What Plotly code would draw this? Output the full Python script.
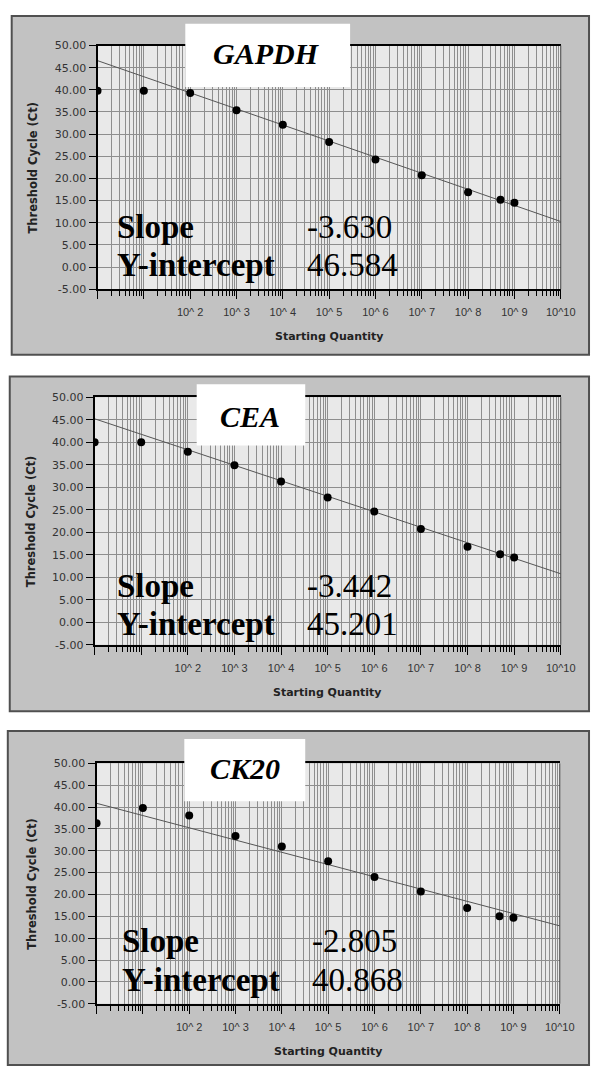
import numpy as np
import plotly.graph_objects as go

# ---------------- data ----------------
genes = ["GAPDH", "CEA", "CK20"]
quantities = [1, 1e1, 1e2, 1e3, 1e4, 1e5, 1e6, 1e7, 1e8, 5e8, 1e9]
gapdh_ct = [39.8, 39.8, 39.3, 35.4, 32.1, 28.2, 24.3, 20.7, 16.9, 15.2, 14.5]
cea_ct = [40.0, 40.0, 37.9, 34.9, 31.3, 27.7, 24.6, 20.7, 16.8, 15.1, 14.4]
ck20_ct = [36.3, 39.8, 38.1, 33.4, 31.0, 27.6, 24.0, 20.7, 16.9, 15.0, 14.7]
slopes = [-3.630, -3.442, -2.805]
intercepts = [46.584, 45.201, 40.868]
slope_labels = ["-3.630", "-3.442", "-2.805"]
intercept_labels = ["46.584", "45.201", "40.868"]
y_tick_values = [-5, 0, 5, 10, 15, 20, 25, 30, 35, 40, 45, 50]
y_tick_labels = ["%.2f" % v for v in y_tick_values]
x_decades = list(range(0, 11))
x_tick_labels = ["", "", "10^ 2", "10^ 3", "10^ 4", "10^ 5", "10^ 6",
                 "10^ 7", "10^ 8", "10^ 9", "10^10"]
x_title = "Starting Quantity"
y_title = "Threshold Cycle (Ct)"
series = [gapdh_ct, cea_ct, ck20_ct]

# ---------------- geometry (pixels) ----------------
W, H = 605, 1069
panels = [
    dict(frame=(12, 10, 604, 353), plot=(100, 40, 575, 286.7),
         tbox=(190, 18, 359, 82), tcenter=(273, 48),
         sl=118, vl=313, b1=235, b2=273, ytx=34),
    dict(frame=(10, 375, 604, 714), plot=(97, 396, 575, 646.7),
         tbox=(201.7, 383, 313, 445), tcenter=(256, 416),
         sl=118, vl=313, b1=598, b2=636.7, ytx=32),
    dict(frame=(8, 734, 604, 1072), plot=(99, 766.7, 574, 1010),
         tbox=(189, 742, 313, 805), tcenter=(251, 772),
         sl=123, vl=318, b1=958, b2=996.7, ytx=32),
]


def px(x):
    return x / W


def py(y):
    return 1 - y / H


fig = go.Figure()
shapes = []
annotations = []

GRID = "#8e8e8e"
major_vals = [10 ** k for k in x_decades]
minor_vals = [m * 10 ** k for k in x_decades[:-1] for m in range(2, 10)]

for i, p in enumerate(panels):
    n = "" if i == 0 else str(i + 1)
    xa, ya = "x" + n, "y" + n
    x0, y0, x1, y1 = p["plot"]

    # panel frame and plot background
    fx0, fy0, fx1, fy1 = p["frame"]
    shapes.append(dict(type="rect", xref="paper", yref="paper",
                       x0=px(fx0), x1=px(fx1), y0=py(fy1), y1=py(fy0),
                       fillcolor="#c2c2c2", line=dict(color="#505050", width=2),
                       layer="below"))
    shapes.append(dict(type="rect", xref="paper", yref="paper",
                       x0=px(x0), x1=px(x1), y0=py(y1), y1=py(y0),
                       fillcolor="#e9e9e9", line=dict(width=0), layer="below"))

    # regression line from slope / intercept
    fit_x = np.array([1.0, 1e10])
    fit_y = intercepts[i] + slopes[i] * np.log10(fit_x)
    fig.add_trace(go.Scatter(x=fit_x, y=fit_y, mode="lines",
                             line=dict(color="#555555", width=1),
                             xaxis=xa, yaxis=ya, showlegend=False,
                             hoverinfo="skip"))
    fig.add_trace(go.Scatter(x=quantities, y=series[i], mode="markers",
                             marker=dict(color="black", size=8),
                             xaxis=xa, yaxis=ya, showlegend=False))

    axis_x = dict(type="log", range=[0, 10], domain=[px(x0), px(x1)],
                  anchor=ya, tickmode="array", tickvals=major_vals,
                  ticktext=x_tick_labels, ticks="outside", ticklen=8,
                  tickcolor="black", tickwidth=1,
                  showgrid=True, gridcolor=GRID, gridwidth=1,
                  minor=dict(tickmode="array", tickvals=minor_vals,
                             ticks="outside", ticklen=5, tickcolor="black",
                             showgrid=True, gridcolor=GRID, gridwidth=1),
                  showline=True, mirror=True, linecolor="black", linewidth=2,
                  tickfont=dict(family="Liberation Sans", size=11, color="#333333"),
                  ticklabelstandoff=4,
                  zeroline=False, fixedrange=True)
    axis_y = dict(range=[-5, 50], domain=[py(y1), py(y0)], anchor=xa,
                  tickmode="array", tickvals=y_tick_values, ticktext=y_tick_labels,
                  ticks="outside", ticklen=7, tickcolor="black",
                  showgrid=True, gridcolor=GRID, gridwidth=1,
                  showline=True, mirror=False, linecolor="black", linewidth=2,
                  tickfont=dict(family="DejaVu Sans", size=11, color="#333333"),
                  zeroline=False, fixedrange=True)
    fig.update_layout({"xaxis" + n: axis_x, "yaxis" + n: axis_y})

    # right border of plot area (thin)
    shapes.append(dict(type="line", xref="paper", yref="paper",
                       x0=px(x1), x1=px(x1), y0=py(y1), y1=py(y0),
                       line=dict(color="#444444", width=1), layer="above"))

    # title box
    tx0, ty0, tx1, ty1 = p["tbox"]
    shapes.append(dict(type="rect", xref="paper", yref="paper",
                       x0=px(tx0), x1=px(tx1), y0=py(ty1), y1=py(ty0),
                       fillcolor="white", line=dict(width=0), layer="above"))
    annotations.append(dict(xref="paper", yref="paper",
                            x=px(p["tcenter"][0]), y=py(p["tcenter"][1]),
                            xanchor="center", yanchor="middle", showarrow=False,
                            text="<b><i>%s</i></b>" % genes[i],
                            font=dict(family="Liberation Serif", size=30, color="black")))

    # slope / intercept texts
    serif = dict(family="Liberation Serif", size=33, color="black")
    for lab, val, base in [("Slope", slope_labels[i], p["b1"]),
                           ("Y-intercept", intercept_labels[i], p["b2"])]:
        annotations.append(dict(xref="paper", yref="paper", x=px(p["sl"]),
                                y=py(base - 11), xanchor="left", yanchor="middle",
                                showarrow=False, text="<b>%s</b>" % lab, font=serif))
        annotations.append(dict(xref="paper", yref="paper", x=px(p["vl"]),
                                y=py(base - 11), xanchor="left", yanchor="middle",
                                showarrow=False, text=val, font=serif))

    # axis titles
    annotations.append(dict(xref="paper", yref="paper", x=px(p["ytx"]),
                            y=py((y0 + y1) / 2), xanchor="center", yanchor="middle",
                            textangle=-90, showarrow=False,
                            text="<b>%s</b>" % y_title,
                            font=dict(family="DejaVu Sans", size=11.5, color="#222222")))
    annotations.append(dict(xref="paper", yref="paper", x=px((x0 + x1) / 2),
                            y=py(y1 + 48), xanchor="center", yanchor="middle",
                            showarrow=False, text="<b>%s</b>" % x_title,
                            font=dict(family="DejaVu Sans", size=11, color="#222222")))

fig.update_layout(width=W, height=H, margin=dict(l=0, r=0, t=0, b=0),
                  paper_bgcolor="white", plot_bgcolor="rgba(0,0,0,0)",
                  shapes=shapes, annotations=annotations, showlegend=False)

fig.write_html("out.html")
